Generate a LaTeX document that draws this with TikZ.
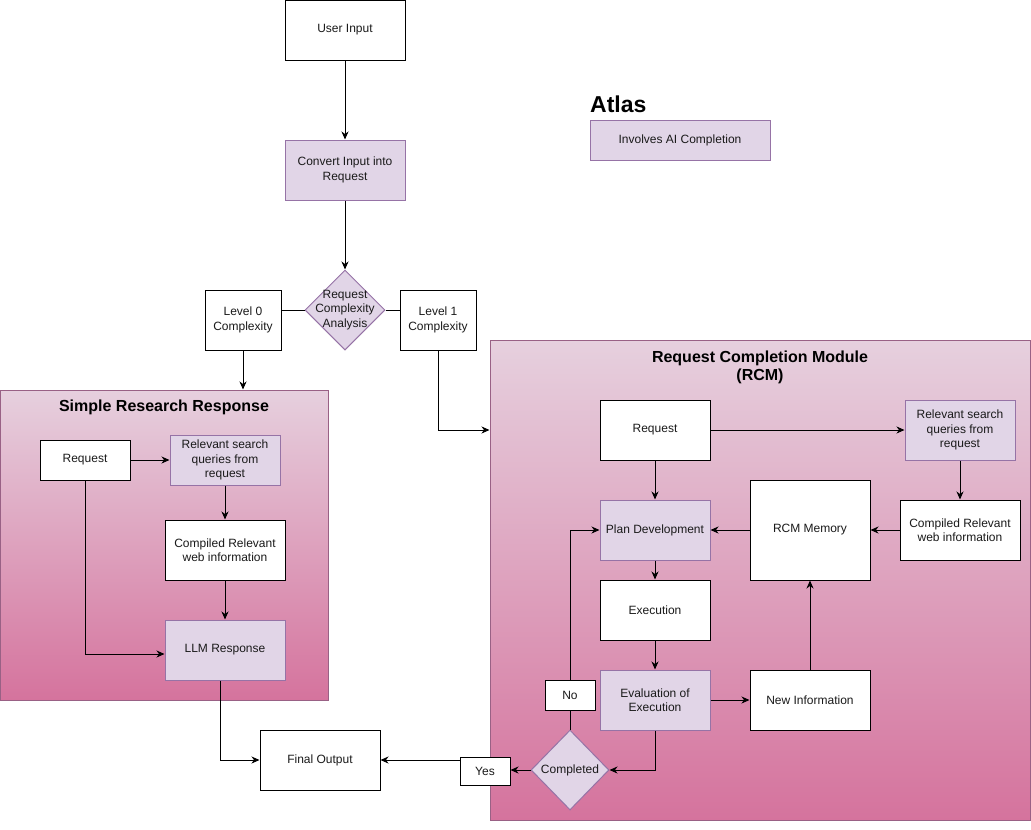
\documentclass[tikz,border=0pt]{standalone}
\usepackage{fontspec}
\setmainfont{Liberation Sans}
\usetikzlibrary{arrows.meta,shapes.geometric}
\definecolor{pfill}{HTML}{E1D5E7}
\definecolor{pdraw}{HTML}{9673A6}
\definecolor{gtop}{HTML}{E6D0DE}
\definecolor{gbot}{HTML}{D5739D}
\definecolor{gdraw}{HTML}{996185}
\definecolor{txt}{HTML}{1A1A1A}
\begin{document}
\begin{tikzpicture}[x=1pt,y=-1pt,
  every node/.style={font=\fontsize{12}{14.5}\selectfont, text=txt, align=center},
  box/.style={draw=black, fill=white, inner sep=0pt, line width=1pt},
  pbox/.style={draw=pdraw, fill=pfill, inner sep=0pt, line width=1pt},
  grp/.style={draw=gdraw, top color=gtop, bottom color=gbot, inner sep=0pt, line width=1pt},
  dia/.style={diamond, draw=pdraw, fill=pfill, inner sep=0pt, line width=1pt, minimum width=80pt, minimum height=80pt},
  title/.style={font=\fontsize{16}{18}\selectfont\bfseries, text=black},
  arr/.style={line width=1pt, -{Stealth[length=8pt,width=7pt,inset=2.5pt]}},
  ln/.style={line width=1pt}
]
\useasboundingbox (0,0) rectangle (1031,830);

% containers
\node[grp, minimum width=328pt, minimum height=310pt] (srr) at (164,545) {};
\node[title] (srrt) at (164,407) {Simple Research Response};
\node[grp, minimum width=540pt, minimum height=480pt] (rcm) at (760,580) {};
\node[title] (rcmt) at (760,367) {Request Completion Module\\(RCM)};

% legend
\node[anchor=west, font=\fontsize{23}{26}\selectfont\bfseries, text=black, inner sep=0pt] (atlas) at (590,104) {Atlas};
\node[pbox, minimum width=180pt, minimum height=40pt] (legend) at (680,140) {Involves AI Completion};

% top flow
\node[box, minimum width=120pt, minimum height=60pt] (ui) at (345,30) {User Input};
\node[pbox, minimum width=120pt, minimum height=60pt] (conv) at (345,170) {Convert Input into\\Request};
\node[dia] (rca) at (345,310) {};
\node (rcat) at (345,310) {Request\\Complexity\\Analysis};
\node[box, minimum width=76pt, minimum height=60pt] (l0) at (243,320) {Level 0\\Complexity};
\node[box, minimum width=76pt, minimum height=60pt] (l1) at (438,320) {Level 1\\Complexity};

% simple research response
\node[box, minimum width=90pt, minimum height=40pt] (sreq) at (85,460) {Request};
\node[pbox, minimum width=110pt, minimum height=50pt] (srel) at (225,460) {Relevant search\\queries from\\request};
\node[box, minimum width=120pt, minimum height=60pt] (scomp) at (225,550) {Compiled Relevant\\web information};
\node[pbox, minimum width=120pt, minimum height=60pt] (sllm) at (225,650) {LLM Response};
\node[box, minimum width=120pt, minimum height=60pt] (final) at (320,760) {Final Output};

% RCM
\node[box, minimum width=110pt, minimum height=60pt] (rreq) at (655,430) {Request};
\node[pbox, minimum width=110pt, minimum height=60pt] (rrel) at (960,430) {Relevant search\\queries from\\request};
\node[box, minimum width=120pt, minimum height=60pt] (rcomp) at (960,530) {Compiled Relevant\\web information};
\node[box, minimum width=120pt, minimum height=100pt] (mem) at (810,530) {RCM Memory};
\node[pbox, minimum width=110pt, minimum height=60pt] (plan) at (655,530) {Plan Development};
\node[box, minimum width=110pt, minimum height=60pt] (exec) at (655,610) {Execution};
\node[pbox, minimum width=110pt, minimum height=60pt] (eval) at (655,700) {Evaluation of\\Execution};
\node[box, minimum width=120pt, minimum height=60pt] (newi) at (810,700) {New Information};
\node[box, minimum width=50pt, minimum height=30pt] (no) at (570,695) {No};
\node[dia, minimum width=78pt] (cmp) at (570,770) {};
\node (cmpt) at (570,770) {Completed};
\node[box, minimum width=50pt, minimum height=28pt] (yes) at (485,771) {Yes};

% connectors: top
\draw[arr] (ui.south) -- (conv.north);
\draw[arr] (conv.south) -- (rca.north);
\draw[ln] (l0.east |- rca.west) -- (rca.west);
\draw[ln] (rca.east) -- (l1.west |- rca.east);
\draw[arr] (l0.south) -- (l0.south |- srr.north);
\draw[arr] (l1.south) |- (rcm.west |- rreq);

% simple research
\draw[arr] (sreq.east) -- (srel.west);
\draw[arr] (srel.south) -- (scomp.north);
\draw[arr] (scomp.south) -- (sllm.north);
\draw[arr] (sreq.south) |- ([yshift=-4pt]sllm.west);
\draw[arr] ([xshift=-5pt]sllm.south) |- (final.west);

% RCM
\draw[arr] (rreq.east) -- (rrel.west);
\draw[arr] (rreq.south) -- (plan.north);
\draw[arr] (rrel.south) -- (rcomp.north);
\draw[arr] (rcomp.west) -- (mem.east);
\draw[arr] (mem.west) -- (plan.east);
\draw[arr] (plan.south) -- (exec.north);
\draw[arr] (exec.south) -- (eval.north);
\draw[arr] (eval.east) -- (newi.west);
\draw[arr] (newi.north) -- (mem.south);
\draw[arr] (eval.south) |- (cmp.east);
\draw[ln] (cmp.north) -- (no.south);
\draw[arr] (no.north) |- (plan.west);
\draw[arr] (cmp.west) -- (yes.east |- cmp.west);
\draw[arr] (yes.west |- final.east) -- (final.east);
\end{tikzpicture}
\end{document}
